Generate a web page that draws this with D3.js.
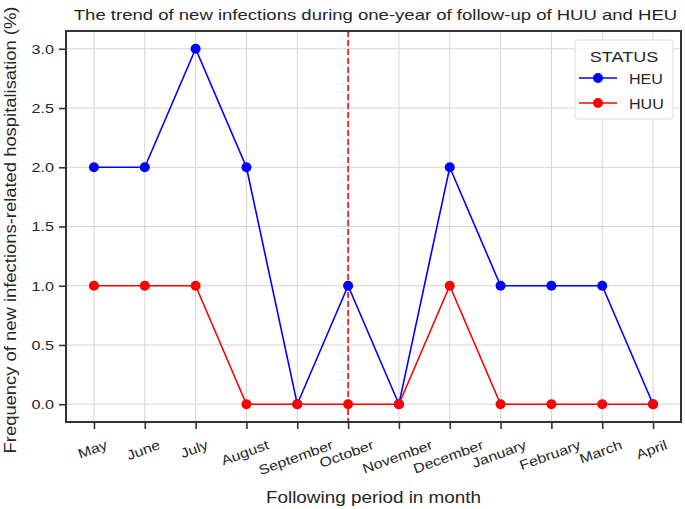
<!DOCTYPE html>
<html>
<head>
<meta charset="utf-8">
<script src="https://cdn.jsdelivr.net/npm/d3@7"></script>
<style>
  body { margin: 0; background: #fff; }
  text { font-family: "Liberation Sans", Arial, sans-serif; fill: #262626; }
</style>
</head>
<body>
<script>
// data
var months = ["May", "June", "July", "August", "September", "October", "November",
              "December", "January", "February", "March", "April"];
var heu = [2, 2, 3, 2, 0, 1, 0, 2, 1, 1, 1, 0];
var huu = [1, 1, 1, 0, 0, 0, 0, 1, 0, 0, 0, 0];
var yticks = [0.0, 0.5, 1.0, 1.5, 2.0, 2.5, 3.0];
var seriesNames = ["HEU", "HUU"];
var seriesColors = ["#0000ff", "#ff0000"];
var markMonth = "October";

var W = 685, H = 509;
var margin = {top: 31, right: 4, bottom: 87, left: 66};
var w = W - margin.left - margin.right,
    h = H - margin.top - margin.bottom;

// the original font runs wider than Liberation Sans, stretch the glyphs a bit
function widen(sel, factor) {
    sel.each(function() {
        var len = this.getComputedTextLength();
        d3.select(this).attr("textLength", len * factor)
            .attr("lengthAdjust", "spacingAndGlyphs");
    });
}

var svg = d3.select("body").append("svg")
    .attr("width", W).attr("height", H);

var g = svg.append("g")
    .attr("transform", "translate(" + margin.left + "," + margin.top + ")");

// scales, 5% padding like matplotlib
var xscale = d3.scalePoint().domain(months).range([0, w]).padding(0.55);
var ypad = 3 * 0.05;
var yscale = d3.scaleLinear().domain([-ypad, 3 + ypad]).range([h, 0]);

// grid
g.append("g").selectAll("line").data(months).enter().append("line")
    .attr("x1", function(d) { return xscale(d); })
    .attr("x2", function(d) { return xscale(d); })
    .attr("y1", 0).attr("y2", h)
    .attr("stroke", "#d4d4d4").attr("stroke-width", 1);
g.append("g").selectAll("line").data(yticks).enter().append("line")
    .attr("y1", function(d) { return yscale(d); })
    .attr("y2", function(d) { return yscale(d); })
    .attr("x1", 0).attr("x2", w)
    .attr("stroke", "#d4d4d4").attr("stroke-width", 1);

// axes
var yaxis = g.append("g")
    .call(d3.axisLeft(yscale).tickValues(yticks).tickFormat(d3.format(".1f"))
          .tickSize(7).tickPadding(5));
var xaxis = g.append("g")
    .attr("transform", "translate(0," + h + ")")
    .call(d3.axisBottom(xscale).tickSize(7).tickPadding(4));
[xaxis, yaxis].forEach(function(a) {
    a.select(".domain").remove();
    a.selectAll(".tick line").attr("stroke", "#333").attr("stroke-width", 1.6);
    a.selectAll(".tick text").attr("font-size", "13.5px").attr("fill", "#262626")
        .attr("font-family", "Liberation Sans, Arial, sans-serif");
});
widen(yaxis.selectAll(".tick text"), 1.2);

// rotated month labels, top of each rotated box sits 16px under the axis
var xt = xaxis.selectAll(".tick text")
    .attr("text-anchor", "middle")
    .attr("y", 0).attr("dy", "0.35em");
widen(xt, 1.18);
xt.attr("transform", function() {
    var len = +this.getAttribute("textLength");
    var a = 20 * Math.PI / 180;
    var cy = 16 + (len * Math.sin(a) + 13 * Math.cos(a)) / 2;
    return "translate(-2," + cy + ") rotate(-20)";
});

// dashed marker line
g.append("line")
    .attr("x1", xscale(markMonth)).attr("x2", xscale(markMonth))
    .attr("y1", 0).attr("y2", h)
    .attr("stroke", "#ee1111").attr("stroke-width", 1.6)
    .attr("stroke-dasharray", "6,3");

// series
var line = d3.line()
    .x(function(d, i) { return xscale(months[i]); })
    .y(function(d) { return yscale(d); });
[heu, huu].forEach(function(vals, k) {
    g.append("path").datum(vals)
        .attr("d", line).attr("fill", "none")
        .attr("stroke", seriesColors[k]).attr("stroke-width", 1.6);
    g.append("g").selectAll("circle").data(vals).enter().append("circle")
        .attr("cx", function(d, i) { return xscale(months[i]); })
        .attr("cy", function(d) { return yscale(d); })
        .attr("r", 5)
        .attr("fill", seriesColors[k]);
});

// frame
g.append("rect").attr("width", w).attr("height", h)
    .attr("fill", "none").attr("stroke", "#333").attr("stroke-width", 2);

// legend
var lg = g.append("g").attr("transform", "translate(" + (w - 106) + ",9)");
lg.append("rect").attr("width", 98).attr("height", 79).attr("rx", 3)
    .attr("fill", "white").attr("fill-opacity", 0.85)
    .attr("stroke", "#dcdcdc");
var lt = lg.append("text").text("STATUS").attr("x", 49).attr("y", 22)
    .attr("text-anchor", "middle").attr("font-size", "15px");
widen(lt, 1.2);
seriesNames.forEach(function(name, k) {
    var yy = 38 + k * 25;
    lg.append("line").attr("x1", 4).attr("x2", 42).attr("y1", yy).attr("y2", yy)
        .attr("stroke", seriesColors[k]).attr("stroke-width", 1.6);
    lg.append("circle").attr("cx", 23).attr("cy", yy).attr("r", 5)
        .attr("fill", seriesColors[k]);
    var nt = lg.append("text").text(name).attr("x", 54).attr("y", yy + 5.5)
        .attr("font-size", "15px");
    widen(nt, 1.07);
});

// title and axis labels
var title = svg.append("text")
    .text("The trend of new infections during one-year of follow-up of HUU and HEU")
    .attr("x", margin.left + w / 2 + 2).attr("y", 20)
    .attr("text-anchor", "middle").attr("font-size", "15px");
widen(title, 1.235);
var xl = svg.append("text")
    .text("Following period in month")
    .attr("x", margin.left + w / 2).attr("y", 503)
    .attr("text-anchor", "middle").attr("font-size", "16px");
widen(xl, 1.18);
var yl = svg.append("text")
    .text("Frequency of new infections-related hospitalisation (%)")
    .attr("transform", "translate(16,230) rotate(-90)")
    .attr("text-anchor", "middle").attr("font-size", "16px");
widen(yl, 1.15);
</script>
</body>
</html>
